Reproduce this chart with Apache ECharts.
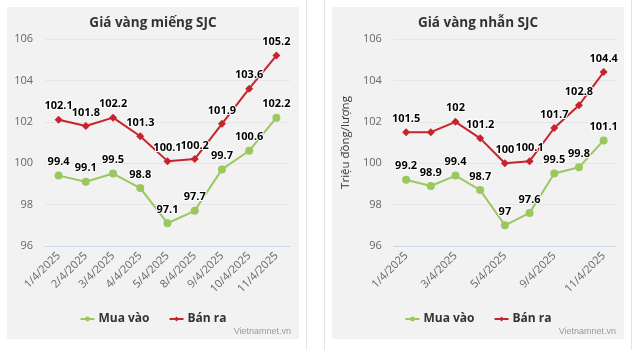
<!DOCTYPE html>
<html>
<head>
<meta charset="utf-8">
<script src="https://cdn.jsdelivr.net/npm/echarts@6/dist/echarts.min.js"></script>
<style>
  html, body { margin: 0; padding: 0; background: #fff; }
  body { width: 632px; height: 350px; position: relative; overflow: hidden; font-family: "Open Sans", sans-serif; }
  .panel { position: absolute; top: 7px; width: 292px; height: 332px; }
  .sep { position: absolute; top: 0; width: 1px; height: 350px; background: #e3e3e3; }
</style>
</head>
<body>
<div id="left" class="panel" style="left:7px"></div>
<div class="sep" style="left:306px"></div>
<div class="sep" style="left:324px"></div>
<div id="right" class="panel" style="left:332px"></div>
<div class="sep" style="left:631px"></div>
<script>
// ngày
var days = ['1/4/2025', '2/4/2025', '3/4/2025', '4/4/2025', '5/4/2025', '8/4/2025', '9/4/2025', '10/4/2025', '11/4/2025'];
// vàng miếng
var mieng_mua = [99.4, 99.1, 99.5, 98.8, 97.1, 97.7, 99.7, 100.6, 102.2];
var mieng_ban = [102.1, 101.8, 102.2, 101.3, 100.1, 100.2, 101.9, 103.6, 105.2];
// vàng nhẫn
var nhan_mua = [99.2, 98.9, 99.4, 98.7, 97, 97.6, 99.5, 99.8, 101.1];
var nhan_ban = [101.5, 101.5, 102, 101.2, 100, 100.1, 101.7, 102.8, 104.4];
var yTicks = { min: 96, max: 106, step: 2 };

var GREEN = '#9bc85e', RED = '#c8232c';

function makeOption(title, mua, ban, opt) {
  var lbl = {
    show: true, position: 'top', distance: 4,
    color: '#000', fontWeight: 'bold', fontSize: 11,
    textBorderColor: '#fff', textBorderWidth: 2
  };
  var banData = ban.map(function (v, i) {
    if (opt.hideBan && opt.hideBan.indexOf(i) >= 0) return { value: v, label: { show: false } };
    return v;
  });
  return {
    backgroundColor: '#f2f2f2',
    animation: false,
    textStyle: { fontFamily: '"Open Sans", sans-serif' },
    title: {
      text: title, left: 'center', top: 4,
      textStyle: { fontSize: 13.5, fontWeight: 'bold', color: '#333' }
    },
    grid: { left: opt.gridLeft, right: opt.gridRight, top: 32, bottom: 93 },
    legend: {
      bottom: 9, itemWidth: 14, itemHeight: 6, itemGap: 19,
      textStyle: { fontSize: 12, fontWeight: 'bold', color: '#333', padding: [0, 0, 0, -1] },
      data: ['Mua vào', 'Bán ra']
    },
    graphic: [{
      type: 'text', right: 8, bottom: 3,
      style: { text: 'Vietnamnet.vn', fill: '#999', fontSize: 9, font: '9px "Open Sans", sans-serif' }
    }],
    xAxis: {
      type: 'category', data: days, boundaryGap: true,
      axisLine: { lineStyle: { color: '#ccd6eb' } },
      axisTick: { show: false },
      axisLabel: { rotate: 45, color: '#666', fontSize: 11, interval: opt.labelInterval, margin: 8 }
    },
    yAxis: {
      type: 'value', min: yTicks.min, max: yTicks.max, interval: yTicks.step,
      name: opt.yName || '', nameLocation: 'middle', nameGap: 37,
      nameTextStyle: { color: '#333', fontSize: 11.5 },
      axisLine: { show: false }, axisTick: { show: false },
      axisLabel: { color: '#666', fontSize: 11, margin: 12 },
      splitLine: { lineStyle: { color: '#e6e6e6' } }
    },
    series: [
      {
        name: 'Mua vào', type: 'line', data: mua,
        symbol: 'circle', symbolSize: 8,
        itemStyle: { color: GREEN }, lineStyle: { color: GREEN, width: 2 },
        label: lbl
      },
      {
        name: 'Bán ra', type: 'line', data: banData,
        symbol: 'diamond', symbolSize: 8,
        itemStyle: { color: RED }, lineStyle: { color: RED, width: 2 },
        label: lbl
      }
    ]
  };
}

var leftChart = echarts.init(document.getElementById('left'));
leftChart.setOption(makeOption('Giá vàng miếng SJC', mieng_mua, mieng_ban, {
  gridLeft: 38, gridRight: 9, labelInterval: 0
}));

var rightChart = echarts.init(document.getElementById('right'));
rightChart.setOption(makeOption('Giá vàng nhẫn SJC', nhan_mua, nhan_ban, {
  gridLeft: 61, gridRight: 8, labelInterval: 1, yName: 'Triệu đồng/lượng', hideBan: [1]
}));
</script>
</body>
</html>
